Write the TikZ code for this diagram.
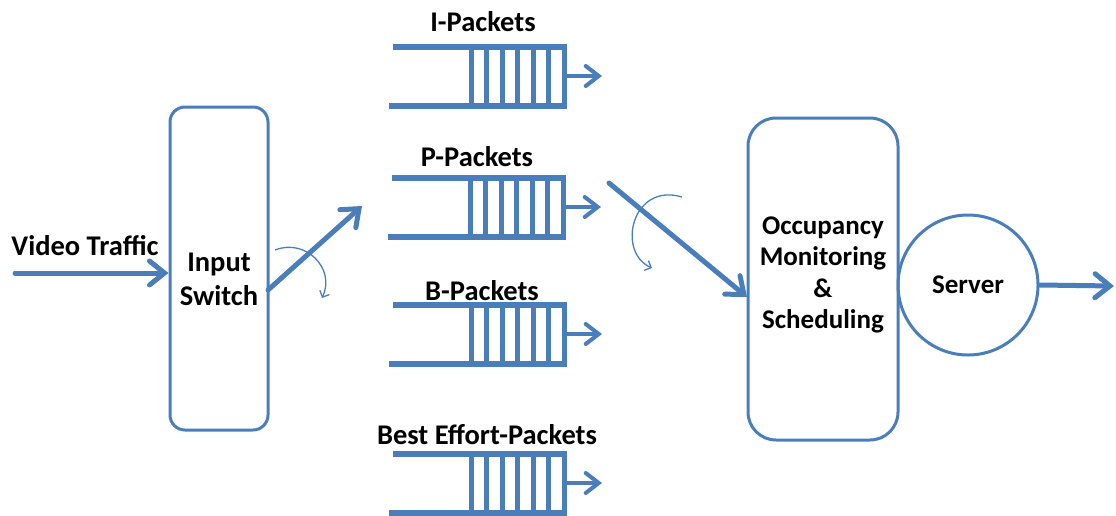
\documentclass[tikz,border=0pt]{standalone}
\usepackage{fontspec}
\setmainfont{Carlito}
\usetikzlibrary{arrows.meta}
\definecolor{linkblue}{RGB}{74,126,187}
\begin{document}
\begin{tikzpicture}[x=1pt,y=-1pt,
  lbl/.style={font=\fontsize{28.5}{34}\selectfont\bfseries, inner sep=0pt, align=center},
  blbl/.style={font=\fontsize{27}{31.5}\selectfont\bfseries, inner sep=0pt, align=center},
  box/.style={draw=linkblue, line width=3pt, rounded corners=#1},
  box/.default=15pt,
  flow/.style={draw=linkblue, line width=5pt, line cap=round,
    -{Straight Barb[length=15pt,width=24pt,line cap=round]}},
  turn/.style={draw=linkblue, line width=1.3pt,
    -{Straight Barb[length=5pt,width=10pt,line cap=round]}},
  qline/.style={draw=linkblue, line width=6pt},
  qbar/.style={draw=linkblue, line width=5pt},
  qout/.style={draw=linkblue, line width=4pt,
    -{Straight Barb[length=13pt,width=20pt,line cap=round]}},
  pktqueue/.pic={
    \draw[qline] (-172,-29.5) -- (2,-29.5);
    \draw[qline] (-176,29.5) -- (2,29.5);
    \foreach \k in {0,...,6}
      \draw[qbar] (-94+15.5*\k,-29.5) -- (-94+15.5*\k,29.5);
    \coordinate (-end) at (1,0);
    \coordinate (-out) at (37,0);
    \draw[qout] (-end) -- (-out);
  }]
\useasboundingbox (0,0) rectangle (1116,515);

% switch and scheduler blocks
\node[box, minimum width=98pt, minimum height=323pt] (switch) at (219,268.5) {};
\node[lbl] (switchtxt) at (219,279) {Input\\Switch};
\node[box=28pt, minimum width=150pt, minimum height=322pt] (occ) at (823,279) {};
\node[blbl] (occtxt) at (823,275) {Occupancy\\Monitoring\\\&\\Scheduling};
\node[draw=linkblue, line width=3pt, circle, minimum size=140pt, inner sep=0pt,
      blbl] (server) at (968,285) {Server};

% packet queues
\pic (qI) at (565,76) {pktqueue};
\pic (qP) at (564,207) {pktqueue};
\pic (qB) at (565,334) {pktqueue};
\pic (qE) at (565,483) {pktqueue};
\node[lbl, anchor=base] (lI) at (483,31) {I-Packets};
\node[lbl, anchor=base] (lP) at (477,166) {P-Packets};
\node[lbl, anchor=base] (lB) at (482,300) {B-Packets};
\node[lbl, anchor=base] (lE) at (487,444) {Best Effort-Packets};

% incoming traffic
\node[lbl, anchor=base] (vtxt) at (85,255) {Video Traffic};
\coordinate (vin) at (15,273);
\draw[flow] (vin) -- (switch.west |- vin);

% switch selector
\coordinate (swout) at (268,290);
\coordinate (swtip) at (362,206);
\draw[flow] (swout) -- (swtip);
\draw[turn] (275,250) .. controls (305,238) and (336,268) .. (322,298);

% scheduler selector
\coordinate (schin) at (609,183);
\coordinate (schtip) at (747,297);
\draw[flow] (schin) -- (schtip);
\draw[turn] (682,197) .. controls (632,182) and (616,252) .. (652,268);

% output of the server
\coordinate (sout) at (1114,286);
\draw[flow] (server.east) -- (sout);
\end{tikzpicture}
\end{document}
